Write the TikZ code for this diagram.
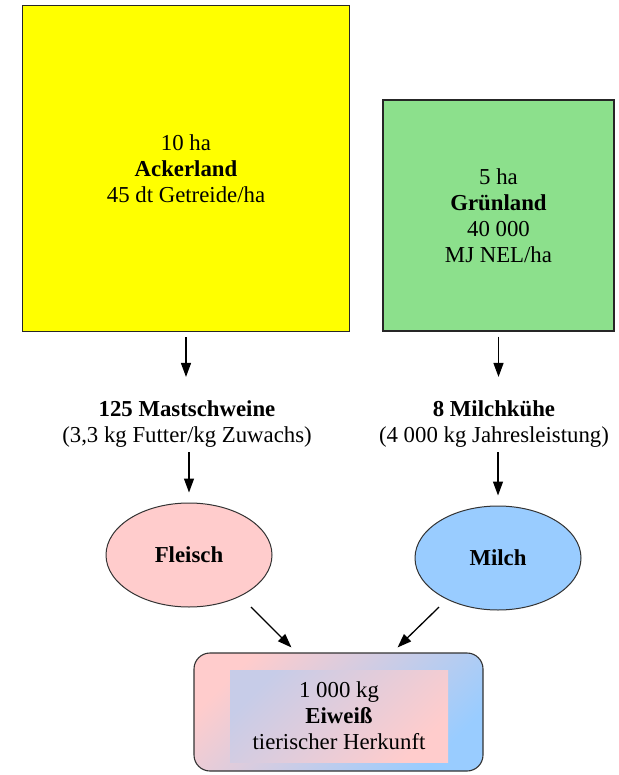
\documentclass[tikz,border=0pt]{standalone}
\usepackage{fontspec}
\setmainfont{Liberation Serif}
\usetikzlibrary{arrows.meta,shapes.geometric}
\definecolor{yellowc}{RGB}{255,255,0}
\definecolor{greenc}{RGB}{140,224,140}
\definecolor{pinkc}{RGB}{255,204,204}
\definecolor{bluec}{RGB}{153,204,255}
\begin{document}
\begin{tikzpicture}[x=1pt,y=-1pt,
  txt/.style={font=\fontsize{22.8}{26}\selectfont, align=center, inner sep=0pt},
  field/.style={draw=black!85, line width=1.1pt, minimum width=#1, minimum height=#1,
    inner sep=0pt, font=\fontsize{22.8}{26}\selectfont, align=center},
  arr/.style={-{Triangle[length=14pt,width=10pt]}, line width=1.3pt},
  oval/.style={ellipse, draw=black!80, line width=1pt, minimum width=166pt,
    minimum height=104pt, inner sep=0pt, font=\fontsize{22.8}{26}\selectfont\bfseries}]
\useasboundingbox (0,0) rectangle (618,775);
\node[field=326.5pt, fill=yellowc] (acker) at (186,168.5)
  {10 ha\\\textbf{Ackerland}\\45 dt Getreide/ha};
\node[field=231pt, fill=greenc] (gruen) at (498.5,215.5)
  {5 ha\\\textbf{Grünland}\\40 000\\MJ NEL/ha};
\node[txt] (mast) at (187,424.5) {\textbf{125 Mastschweine}\\(3,3 kg Futter/kg Zuwachs)};
\node[txt] (kuehe) at (494,424.5) {\textbf{8 Milchkühe}\\(4 000 kg Jahresleistung)};
\node[oval, fill=pinkc] (fleisch) at (189,555) {Fleisch};
\node[oval, fill=bluec] (milch) at (498,558) {Milch};
\node[draw=black!80, line width=1.1pt, rounded corners=16pt, minimum width=289pt,
  minimum height=118pt, top color=pinkc, bottom color=bluec, shading angle=45]
  (eiw) at (338.5,712) {};
\node[txt, minimum width=218pt, minimum height=92pt, top color=bluec!55!pinkc,
  bottom color=pinkc, shading angle=45] (eiwtxt) at (339,716)
  {1 000 kg\\\textbf{Eiweiß}\\tierischer Herkunft};
\draw[arr, shorten <=5pt, shorten >=24pt] (acker.south) -- (acker.south |- mast.north);
\draw[arr, shorten <=5pt, shorten >=24pt] (gruen.south) -- (gruen.south |- kuehe.north);
\draw[arr, shorten <=4pt, shorten >=10pt] (fleisch.north |- mast.south) -- (fleisch.north);
\draw[arr, shorten <=4pt, shorten >=10pt] (milch.north |- kuehe.south) -- (milch.north);
\draw[arr] ([xshift=3pt,yshift=-15pt]fleisch.south east) -- ([xshift=98pt,yshift=5pt]eiw.north west);
\draw[arr] ([yshift=-12pt]milch.south west) -- ([xshift=-86pt,yshift=5pt]eiw.north east);
\end{tikzpicture}
\end{document}
